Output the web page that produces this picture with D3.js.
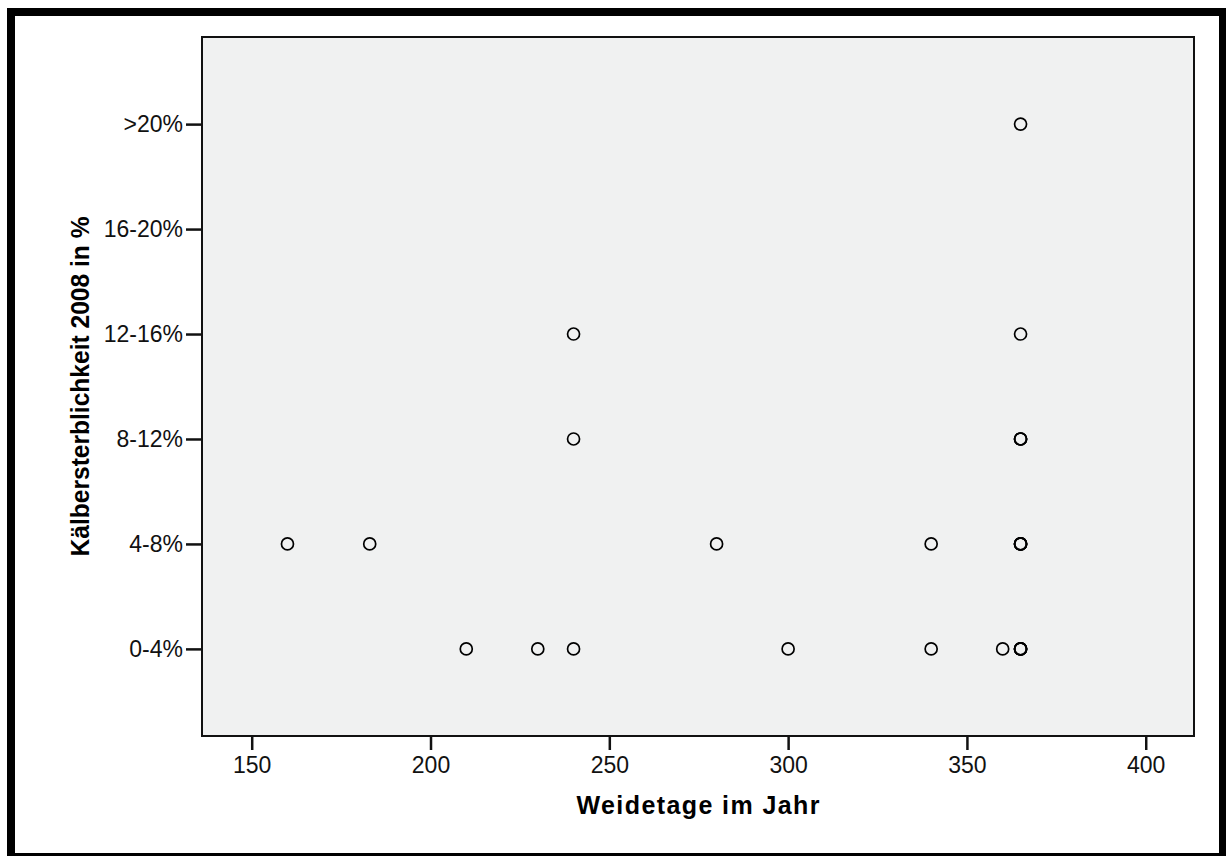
<!DOCTYPE html>
<html>
<head>
<meta charset="utf-8">
<script src="https://cdn.jsdelivr.net/npm/d3@7"></script>
<style>
  body { margin: 0; background: #fff; }
  svg { display: block; font-family: "Liberation Sans", Arial, sans-serif; }
</style>
</head>
<body>
<div id="chart"></div>
<script>
// categories of the y axis, bottom to top
var categories = ["0-4%", "4-8%", "8-12%", "12-16%", "16-20%", ">20%"];
var xTicks = [150, 200, 250, 300, 350, 400];

// Weidetage per point, and the category each one falls in
var weidetage = [210, 230, 240, 300, 340, 360, 365, 365, 365, 365,
                 160, 183, 280, 340, 365, 365, 365, 365,
                 240, 365, 365, 365,
                 240, 365,
                 365];
var sterblichkeit = ["0-4%", "0-4%", "0-4%", "0-4%", "0-4%", "0-4%", "0-4%", "0-4%", "0-4%", "0-4%",
                     "4-8%", "4-8%", "4-8%", "4-8%", "4-8%", "4-8%", "4-8%", "4-8%",
                     "8-12%", "8-12%", "8-12%", "8-12%",
                     "12-16%", "12-16%",
                     ">20%"];

var W = 1226, H = 856;
var margin = {top: 37, right: 32, bottom: 120, left: 202};
var width = W - margin.left - margin.right;
var height = H - margin.top - margin.bottom;

var svg = d3.select("#chart")
    .append("svg")
    .attr("width", W)
    .attr("height", H);

// thick outer frame
svg.append("rect")
    .attr("x", 11)
    .attr("y", 12)
    .attr("width", 1212)
    .attr("height", 845)
    .attr("fill", "none")
    .attr("stroke", "#000")
    .attr("stroke-width", 8);

var g = svg.append("g")
    .attr("transform", "translate(" + margin.left + "," + margin.top + ")");

// plot background
g.append("rect")
    .attr("width", width)
    .attr("height", height)
    .attr("fill", "#f0f1f1");

var x = d3.scaleLinear()
    .domain([136.1, 413.5])
    .range([0, width]);

var y = d3.scalePoint()
    .domain(categories)
    .range([height, 0])
    .padding(0.83);

// X axis
var xAxis = g.append("g")
    .attr("transform", "translate(0," + height + ")")
    .call(d3.axisBottom(x).tickValues(xTicks).tickSize(14).tickPadding(7).tickFormat(d3.format("d")));

// Y axis
var yAxis = g.append("g")
    .call(d3.axisLeft(y).tickSize(16).tickPadding(3));

[xAxis, yAxis].forEach(function(a) {
    a.select(".domain").remove();
    a.selectAll(".tick line").attr("stroke", "#111").attr("stroke-width", 2.5);
    a.selectAll(".tick text")
        .attr("fill", "#111")
        .attr("font-size", 23)
        .attr("font-family", "'Liberation Sans', Arial, sans-serif");
});

// plot frame
g.append("rect")
    .attr("width", width)
    .attr("height", height)
    .attr("fill", "none")
    .attr("stroke", "#111")
    .attr("stroke-width", 2);

// points
g.append("g")
    .selectAll("circle")
    .data(weidetage)
    .enter()
    .append("circle")
    .attr("cx", function(d) { return x(d); })
    .attr("cy", function(d, i) { return y(sterblichkeit[i]); })
    .attr("r", 6)
    .attr("fill", "none")
    .attr("stroke", "#000")
    .attr("stroke-width", 1.7);

// X axis label
svg.append("text")
    .attr("x", margin.left + width / 2)
    .attr("y", 814)
    .attr("text-anchor", "middle")
    .attr("textLength", 243)
    .attr("lengthAdjust", "spacing")
    .style("font-size", "25px")
    .style("font-weight", "bold")
    .text("Weidetage im Jahr");

// Y axis label
svg.append("text")
    .attr("transform", "translate(89," + (margin.top + height / 2) + ") rotate(-90)")
    .attr("text-anchor", "middle")
    .attr("textLength", 340)
    .attr("lengthAdjust", "spacingAndGlyphs")
    .style("font-size", "25px")
    .style("font-weight", "bold")
    .text("Kälbersterblichkeit 2008 in %");
</script>
</body>
</html>
